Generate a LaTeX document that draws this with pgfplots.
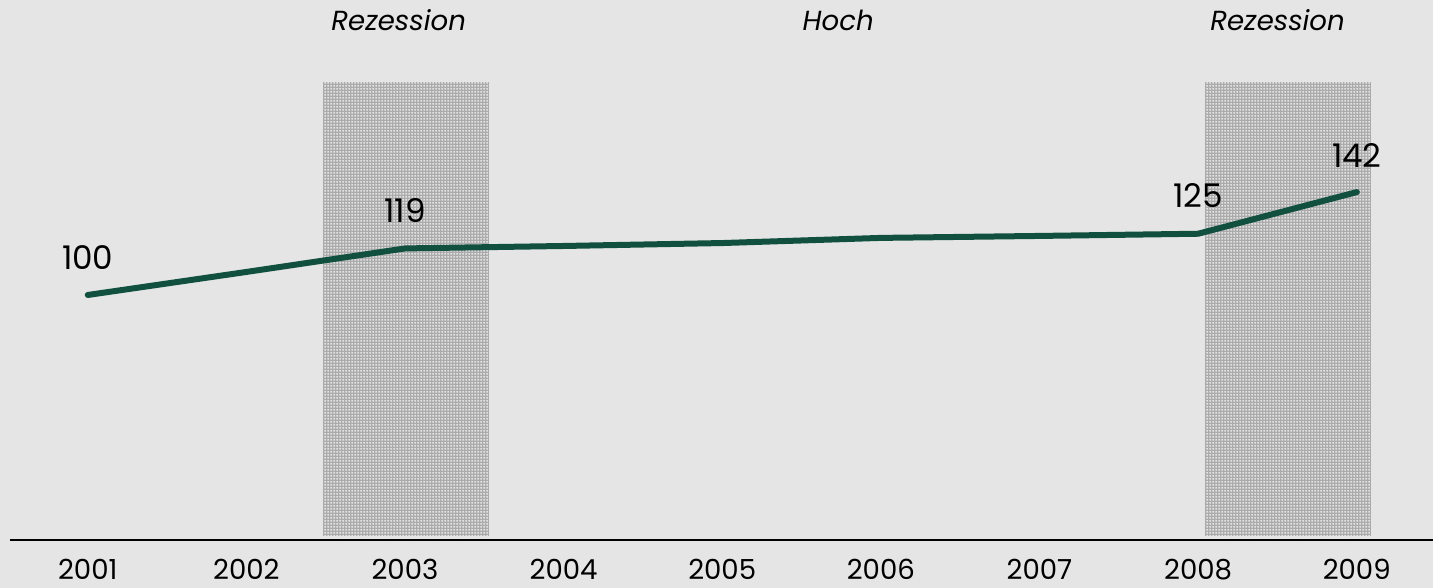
\documentclass[border=0pt]{standalone}
\usepackage{fontspec}
\setmainfont{Poppins}
\usepackage{pgfplots}
\pgfplotsset{compat=1.18}
\usetikzlibrary{patterns.meta}
\definecolor{bgcol}{HTML}{E5E5E5}
\definecolor{linecol}{HTML}{11503F}
\definecolor{shadecol}{HTML}{ABABAB}
\definecolor{dotcol}{HTML}{E4E4E4}
\tikzdeclarepattern{
  name=smalldots,
  type=uncolored,
  bottom left={(0pt,0pt)},
  top right={(1.5pt,1.5pt)},
  tile size={(1.5pt,1.5pt)},
  code={\fill (0.2pt,0.2pt) rectangle (1.2pt,1.2pt);}
}
\begin{document}
\begin{tikzpicture}
\path[use as bounding box] (0,0) rectangle (716.5pt,294pt);
\fill[bgcol] (0,0) rectangle (716.5pt,294pt);
\begin{axis}[
  at={(5pt,24pt)}, anchor=south west,
  scale only axis,
  width=711.5pt, height=270pt,
  xmin=2000.51, xmax=2009.48,
  ymin=0, ymax=220.4,
  clip=false,
  axis y line=none,
  axis x line*=bottom,
  x axis line style={black, line width=1.1pt, -},
  xtick={2001,2002,...,2009},
  xticklabel style={font=\fontsize{13.8}{16}\selectfont, yshift=-6pt},
  xticklabel={\pgfmathprintnumber[1000 sep={},fixed]{\tick}},
  major tick length=0pt,
  /pgf/number format/assume math mode=true,
]
\fill[shadecol] (axis cs:2002.48,1.5) rectangle (axis cs:2003.53,187);
\fill[pattern={smalldots}, pattern color=dotcol] (axis cs:2002.48,1.5) rectangle (axis cs:2003.53,187);
\fill[shadecol] (axis cs:2008.04,1.5) rectangle (axis cs:2009.09,187);
\fill[pattern={smalldots}, pattern color=dotcol] (axis cs:2008.04,1.5) rectangle (axis cs:2009.09,187);
\addplot[linecol, line width=3pt, line cap=round, line join=round, mark=none] coordinates {
(2001,100) (2002,109.4) (2003,119) (2004,120) (2005,121.2) (2006,123.3) (2007,124.1) (2008,125) (2009,142)
};
\begin{scope}[every node/.style={font=\fontsize{16.3}{19}\selectfont}]
\node at (axis cs:2001,115.1) {100};
\node at (axis cs:2003,134.3) {119};
\node at (axis cs:2008,140.4) {125};
\node at (axis cs:2009,157.1) {142};
\end{scope}
\begin{scope}[every node/.style={font=\fontsize{13.8}{16}\selectfont\itshape}]
\node at (axis cs:2002.96,212.2) {Rezession};
\node at (axis cs:2005.73,212.2) {Hoch};
\node at (axis cs:2008.5,212.2) {Rezession};
\end{scope}
\end{axis}
\end{tikzpicture}
\end{document}
